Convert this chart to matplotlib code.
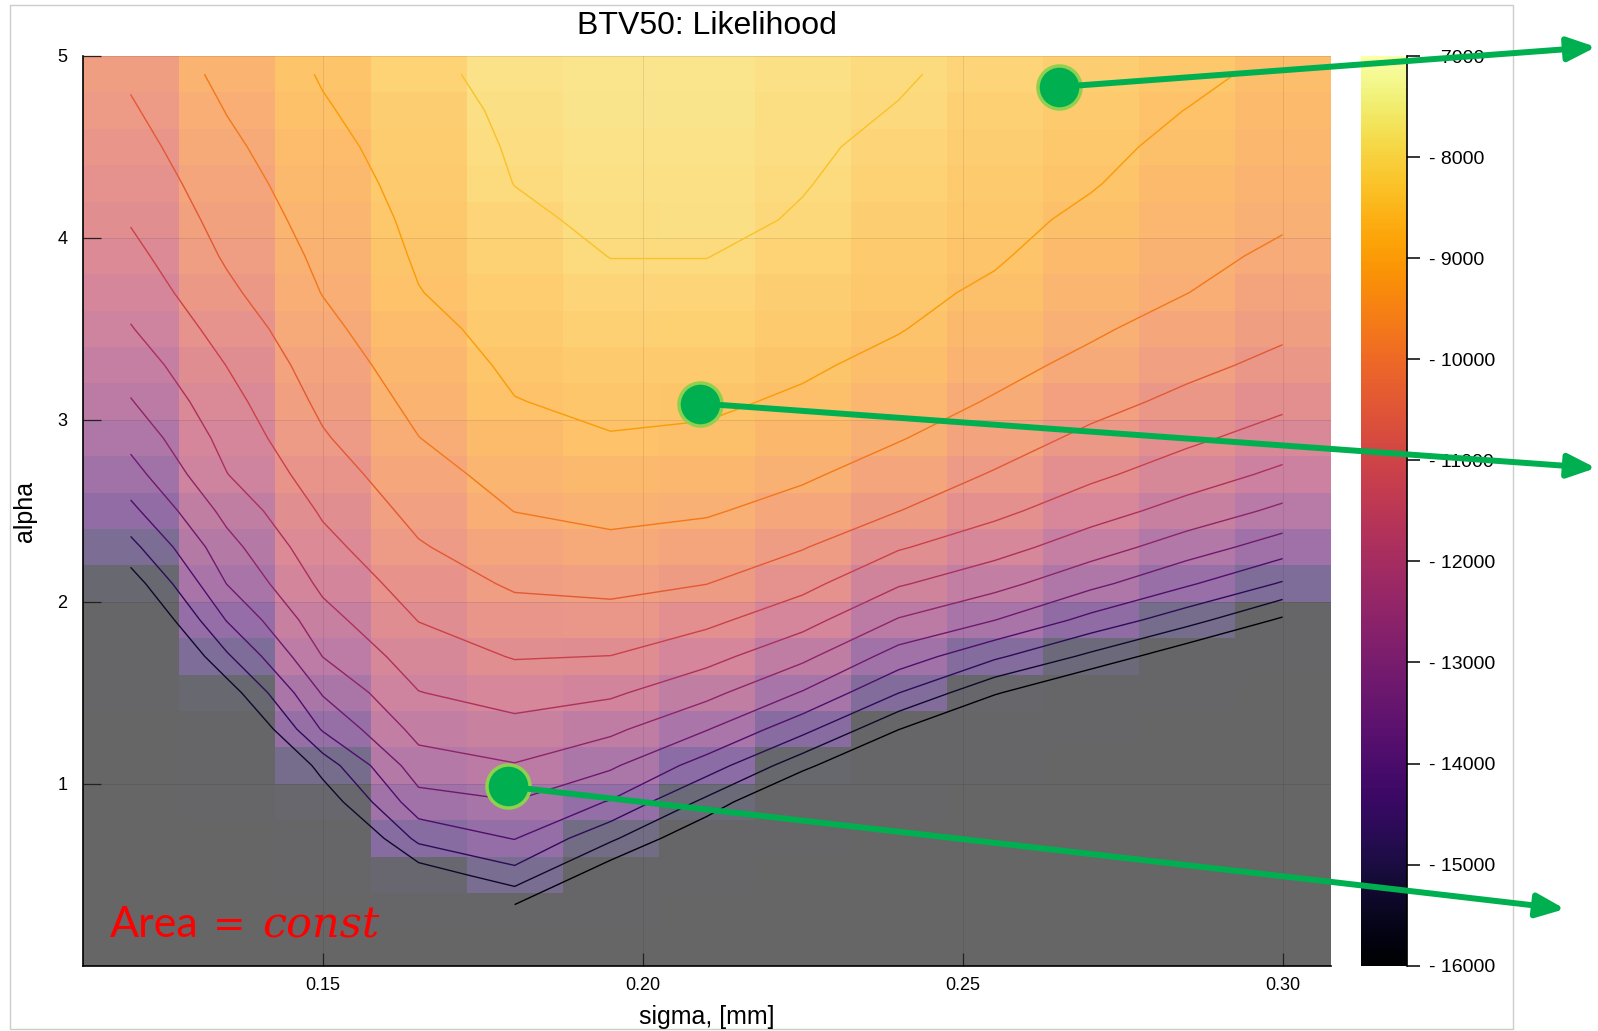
import numpy as np
import matplotlib
matplotlib.use("Agg")
import matplotlib.pyplot as plt
from matplotlib.colors import ListedColormap, Normalize
from matplotlib.cm import ScalarMappable
from matplotlib.patches import ConnectionPatch, Rectangle

plt.rcParams["font.family"] = ["Liberation Sans", "DejaVu Sans"]

nan = np.nan

# ---------- Data ----------
sigma = [0.120, 0.135, 0.150, 0.165, 0.180, 0.195, 0.210,
         0.225, 0.240, 0.255, 0.270, 0.285, 0.300]
alpha = [0.1, 0.3, 0.5, 0.7, 0.9, 1.1, 1.3, 1.5, 1.7, 1.9, 2.1, 2.3, 2.5,
         2.7, 2.9, 3.1, 3.3, 3.5, 3.7, 3.9, 4.1, 4.3, 4.5, 4.7, 4.9]

# log-likelihood, one list per sigma column, alpha from 0.1 up to 4.9 (nan = no fit)
ll_s120 = [nan, nan, nan, nan, nan, nan, nan, -18100, -17300, -16500, -15690, -14820, -14080,
           -13480, -12980, -12540, -12190, -11840, -11560, -11300, -11050, -10860, -10670, -10480, -10300]
ll_s135 = [nan, nan, nan, nan, -18700, -17700, -16700, -15700, -14710, -13870, -13190, -12750, -12290,
           -11820, -11570, -11340, -11090, -10820, -10540, -10320, -10160, -10000, -9840, -9680, -9520]
ll_s150 = [nan, nan, -17900, -16900, -15800, -15000, -13830, -13140, -12490, -12050, -11650, -11320, -11010,
           -10740, -10470, -10250, -10060, -9870, -9680, -9560, -9430, -9310, -9190, -9060, -8950]
ll_s165 = [nan, -17000, -15750, -14400, -13470, -12800, -12270, -11820, -11450, -11080, -10770, -10460, -10200,
           -9950, -9710, -9530, -9360, -9190, -9020, -8930, -8860, -8780, -8700, -8630, -8500]
ll_s180 = [nan, -16250, -14850, -13870, -13230, -12540, -12010, -11520, -11060, -10680, -10310, -10000, -9690,
           -9460, -9240, -9020, -8890, -8770, -8660, -8540, -8420, -8290, -8230, -8150, -8050]
ll_s195 = [nan, -16800, -16560, -15160, -13950, -13090, -12350, -11690, -11110, -10640, -10220, -9850, -9540,
           -9290, -9030, -8870, -8730, -8580, -8440, -8290, -8170, -8110, -8060, -8000, -7950]
ll_s210 = [nan, nan, -17200, -16760, -15490, -14220, -13160, -12300, -11570, -10940, -10390, -10000, -9630,
           -9360, -9090, -8900, -8750, -8600, -8440, -8290, -8150, -8100, -8050, -8000, -7960]
ll_s225 = [nan, nan, nan, -17600, -17300, -15770, -14370, -13250, -12330, -11540, -10900, -10360, -9950,
           -9600, -9340, -9090, -8910, -8770, -8630, -8490, -8350, -8270, -8220, -8170, -8120]
ll_s240 = [nan, nan, nan, nan, -17800, -17400, -15980, -14590, -13500, -12550, -11730, -11040, -10390,
           -10020, -9660, -9420, -9170, -8970, -8860, -8750, -8640, -8530, -8420, -8320, -8250]
ll_s255 = [nan, nan, nan, nan, nan, -17700, -17300, -15920, -14470, -13190, -12270, -11530, -10930,
           -10450, -10090, -9750, -9520, -9300, -9090, -8940, -8840, -8740, -8650, -8550, -8450]
ll_s270 = [nan, nan, nan, nan, nan, nan, -17600, -17000, -15460, -14110, -13010, -12170, -11500,
           -10960, -10540, -10180, -9850, -9610, -9440, -9280, -9110, -8960, -8860, -8750, -8650]
ll_s285 = [nan, nan, nan, nan, nan, nan, nan, -17200, -16540, -15020, -13800, -12850, -12060,
           -11450, -10960, -10560, -10230, -9950, -9690, -9550, -9410, -9280, -9140, -9010, -8850]
ll_s300 = [nan, nan, nan, nan, nan, nan, nan, nan, -17200, -16120, -14670, -13550, -12650,
           -11950, -11400, -10940, -10570, -10270, -10030, -9800, -9630, -9510, -9390, -9270, -9150]

contour_levels = [-16000, -15300, -14600, -13900, -13200, -12500,
                  -11800, -11100, -10400, -9700, -9000, -8300]
cbar_ticks = [-16000, -15000, -14000, -13000, -12000, -11000, -10000, -9000, -8000, -7000]

# picked points marked in green
pick_sigma = [0.265, 0.209, 0.179]
pick_alpha = [4.83, 3.09, 0.985]

columns = [ll_s120, ll_s135, ll_s150, ll_s165, ll_s180, ll_s195, ll_s210,
           ll_s225, ll_s240, ll_s255, ll_s270, ll_s285, ll_s300]
Z = np.array(columns, dtype=float).T
Zm = np.ma.masked_invalid(Z)

# ---------- Layout (pixels, top-left origin) ----------
W, H = 1598, 1031
fig = plt.figure(figsize=(W / 100, H / 100), dpi=100)


def box(x0, y0, x1, y1):
    return [x0 / W, 1 - y1 / H, (x1 - x0) / W, (y1 - y0) / H]


ax = fig.add_axes(box(82.6, 56, 1330.6, 965.7))
cax = fig.add_axes(box(1361, 56, 1407, 965.7))

norm = Normalize(-16000, -7000)
base = plt.get_cmap("inferno")(np.linspace(0, 1, 256))
soft = base.copy()
soft[:, :3] = 0.6 * base[:, :3] + 0.4   # heatmap drawn at 60% opacity on white
soft_cmap = ListedColormap(soft)
soft_cmap.set_bad("#666666")
soft_cmap.set_under(soft[0])

s = np.array(sigma)
a = np.array(alpha)
ds = s[1] - s[0]
da = a[1] - a[0]
s_edges = np.append(s - ds / 2, s[-1] + ds / 2)
a_edges = np.append(a - da / 2, a[-1] + da / 2)

ax.pcolormesh(s_edges, a_edges, Zm, cmap=soft_cmap, norm=norm, shading="flat")

ax.contour(s, a, Zm, levels=contour_levels[1:], cmap="inferno", norm=norm, linewidths=1.0)
# lowest level only on the right branch of the valley
Zright = np.ma.masked_where(np.broadcast_to(s < 0.175, Z.shape), Zm)
ax.contour(s, a, Zright, levels=contour_levels[:1], cmap="inferno", norm=norm, linewidths=1.0)

ax.set_xlim(s_edges[0], s_edges[-1])
ax.set_ylim(a_edges[0], a_edges[-1])
ax.set_xticks([0.15, 0.20, 0.25, 0.30])
ax.set_xticklabels(["0.15", "0.20", "0.25", "0.30"])
ax.set_yticks([1, 2, 3, 4, 5])
ax.grid(True, color="k", alpha=0.1, lw=0.6)
ax.tick_params(axis="both", direction="in", labelsize=13, color="#222222", width=0.9)
ax.tick_params(axis="x", length=9.5, pad=8)
ax.tick_params(axis="y", length=13, pad=11)
for side in ["top", "right"]:
    ax.spines[side].set_visible(False)
for side in ["left", "bottom"]:
    ax.spines[side].set_linewidth(1.2)

ax.plot(pick_sigma, pick_alpha, "o", ms=31, mfc="#00b050", mec="#8fd14f", mew=2.5,
        zorder=5, clip_on=False)

# ---------- Colorbar ----------
cb = fig.colorbar(ScalarMappable(norm=norm, cmap="inferno"), cax=cax)
cb.outline.set_visible(False)
cb.set_ticks(cbar_ticks)
cb.set_ticklabels([f"- {abs(v)}" for v in cbar_ticks])
cax.tick_params(direction="out", length=9, width=1.1, labelsize=14, pad=7, color="k")
cax.axvline(1, color="k", lw=1.2, clip_on=False)

# ---------- Texts and frame ----------
fig.text(706.6 / W, 1 - 26 / H, "BTV50: Likelihood", ha="center", va="center", fontsize=23)
fig.text(706.6 / W, 1 - 1017 / H, "sigma, [mm]", ha="center", va="center", fontsize=18)
fig.text(24.5 / W, 1 - 511 / H, "alpha", rotation=90, ha="center", va="center", fontsize=18)

fig.text(110 / W, 1 - 937 / H, "Area", color="red", fontsize=31, family="Lato",
         va="baseline", ha="left")
fig.text(213 / W, 1 - 937 / H, "=", color="red", fontsize=28, family="DejaVu Sans",
         va="baseline", ha="left")
fig.text(262 / W, 1 - 937 / H, "const", color="red", fontsize=31, family="DejaVu Serif",
         style="italic", va="baseline", ha="left")

fig.add_artist(Rectangle((10 / W, 1 - 1029 / H), 1503 / W, 1024 / H,
                         transform=fig.transFigure, fill=False, ec="#cccccc", lw=1))

# ---------- Arrows to the side ----------
tips = [(1596, 47), (1596, 468), (1565, 909)]
for ps, pa, (tx, ty) in zip(pick_sigma, pick_alpha, tips):
    con = ConnectionPatch(xyA=(ps, pa), coordsA=ax.transData,
                          xyB=(tx / W, 1 - ty / H), coordsB=fig.transFigure,
                          arrowstyle="-|>,head_length=0.85,head_width=0.36",
                          mutation_scale=20, color="#00b050", lw=4.3,
                          shrinkA=15, shrinkB=0)
    fig.add_artist(con)

fig.savefig("out.png", dpi=100)
